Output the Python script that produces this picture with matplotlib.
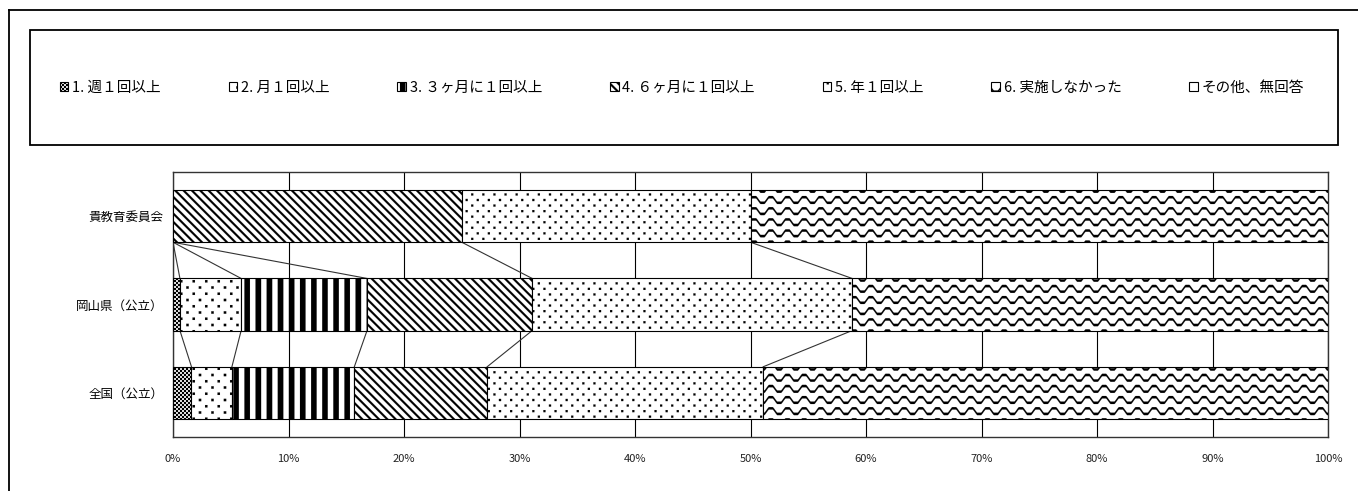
import warnings
import matplotlib
matplotlib.use('Agg')
import matplotlib.pyplot as plt
import matplotlib.hatch as mhatch
from matplotlib.lines import Line2D
from matplotlib.patches import Rectangle
from matplotlib.path import Path
import numpy as np

warnings.filterwarnings('ignore')

plt.rcParams['font.family'] = ['Noto Sans CJK JP', 'DejaVu Sans']
plt.rcParams['hatch.linewidth'] = 0.1

categories = ['貴教育委員会', '岡山県（公立）', '全国（公立）']
labels = ['1. 週１回以上', '2. 月１回以上', '3. ３ヶ月に１回以上', '4. ６ヶ月に１回以上',
          '5. 年１回以上', '6. 実施しなかった', 'その他、無回答']
weekly = [0.0, 0.6, 1.6]
monthly = [0.0, 5.3, 3.5]
quarterly = [0.0, 10.9, 10.6]
half_year = [25.0, 14.3, 11.5]
yearly = [25.0, 27.7, 23.9]
not_done = [50.0, 41.2, 48.9]
other = [0.0, 0.0, 0.0]
xticks = [0, 10, 20, 30, 40, 50, 60, 70, 80, 90, 100]


# ---- excel-like fill patterns, built as filled polygons in the unit hatch tile ----
def rect(x0, y0, w, h):
    return [(x0, y0), (x0 + w, y0), (x0 + w, y0 + h), (x0, y0 + h)]

def checker():
    n = 25
    s = 1.0 / n
    polys = []
    for i in range(n + 1):
        for j in range(n + 1):
            polys.append(rect(i * s, j * s, s / 2, s / 2))
            polys.append(rect(i * s + s / 2, j * s + s / 2, s / 2, s / 2))
    return polys

def dots(ncol, nrow, size):
    polys = []
    for r in range(nrow + 1):
        shift = (r % 2) * 0.5 / ncol
        for c in range(-1, ncol + 1):
            x = c / ncol + shift
            y = r / nrow
            polys.append(rect(x - size / 2, y - size / 2, size, size))
    return polys

def vertical(n, w):
    return [rect(k / n, -0.05, w, 1.1) for k in range(-1, n + 1)]

def diagonal(n, w):
    polys = []
    for k in range(-2, 2 * n + 3):
        c = k / n
        polys.append([(-0.2, c + 0.2), (1.2, c - 1.2), (1.2 + w, c - 1.2), (-0.2 + w, c + 0.2)])
    return polys

def wave(nper, nrow, amp, thick):
    xs = np.linspace(-0.02, 1.02, 240)
    f = amp * np.clip(1.35 * np.sin(2 * np.pi * nper * xs), -1, 1)
    polys = []
    for r in range(-1, nrow + 2):
        yc = r / nrow
        top = list(zip(xs, yc + f + thick / 2))
        bot = list(zip(xs[::-1], (yc + f - thick / 2)[::-1]))
        polys.append(top + bot)
    return polys

PATTERNS = {
    'c': lambda: checker(),
    'd': lambda: dots(8, 16, 0.024),
    'v': lambda: vertical(9, 0.055),
    'g': lambda: diagonal(12, 0.028),
    'p': lambda: dots(9, 18, 0.021),
    'w': lambda: wave(6, 9, 0.028, 0.024),
}

class PolyHatch(mhatch.HatchPatternBase):
    def __init__(self, hatch, density):
        self.polys = []
        for key, maker in PATTERNS.items():
            if key in hatch:
                self.polys += maker()
        self.num_vertices = sum(len(p) + 1 for p in self.polys)

    def set_vertices_and_codes(self, vertices, codes):
        cur = 0
        for p in self.polys:
            n = len(p)
            vertices[cur:cur + n] = p
            vertices[cur + n] = p[0]
            codes[cur] = Path.MOVETO
            codes[cur + 1:cur + n] = Path.LINETO
            codes[cur + n] = Path.CLOSEPOLY
            cur += n + 1

mhatch._hatch_types.append(PolyHatch)

hatches = ['c', 'd', 'v', 'g', 'p', 'w', None]
series = [weekly, monthly, quarterly, half_year, yearly, not_done, other]

W, H = 1358, 491
fig = plt.figure(figsize=(W / 100, H / 100), dpi=100)
ax = fig.add_axes([173 / W, 1 - 437 / H, (1328 - 173) / W, (437 - 172) / H])

y = np.arange(len(categories))
bar_h = 0.59
left = np.zeros(len(categories))
bounds = []
for vals, hatch, lab in zip(series, hatches, labels):
    vals = np.array(vals)
    ax.barh(y, vals, left=left, height=bar_h, color='white', edgecolor='black',
            linewidth=0.8, hatch=hatch, label=lab, zorder=3)
    left = left + vals
    bounds.append(left.copy())

# series lines between neighbouring bars
for r in range(len(categories) - 1):
    for b in bounds[:6]:
        ax.plot([b[r], b[r + 1]], [r + bar_h / 2, r + 1 - bar_h / 2],
                color='#333333', lw=0.8, zorder=2)

ax.set_xlim(0, 100)
ax.set_ylim(len(categories) - 0.5, -0.5)
ax.set_xticks(xticks)
ax.set_xticklabels([f'{v}%' for v in xticks], fontsize=8, color='#222222')
ax.set_yticks(y)
ax.set_yticklabels(categories, fontsize=9)
ax.tick_params(axis='x', length=0, pad=12)
ax.tick_params(axis='y', length=0, pad=7)
ax.grid(axis='x', color='black', lw=0.8)
ax.set_axisbelow(True)
for s in ax.spines.values():
    s.set_linewidth(1.0)
    s.set_color('#333333')

# outer chart border (cropped) and legend box
fig.add_artist(Line2D([9 / W, 9 / W], [0, 1 - 10 / H], color='black', lw=1.3))
fig.add_artist(Line2D([9 / W, 1], [1 - 10 / H, 1 - 10 / H], color='black', lw=1.3))
fig.add_artist(Rectangle((30 / W, 1 - 145 / H), 1308 / W, 115 / H, fill=False,
                         edgecolor='black', lw=1.3))

handles, labs = ax.get_legend_handles_labels()
fig.legend(handles, labs, loc='center', bbox_to_anchor=(682 / W, 1 - 88 / H), ncol=7,
           frameon=False, fontsize=10.5, handlelength=0.6, handleheight=0.6,
           handletextpad=0.25, columnspacing=4.65)

fig.savefig('out.png', dpi=100)
